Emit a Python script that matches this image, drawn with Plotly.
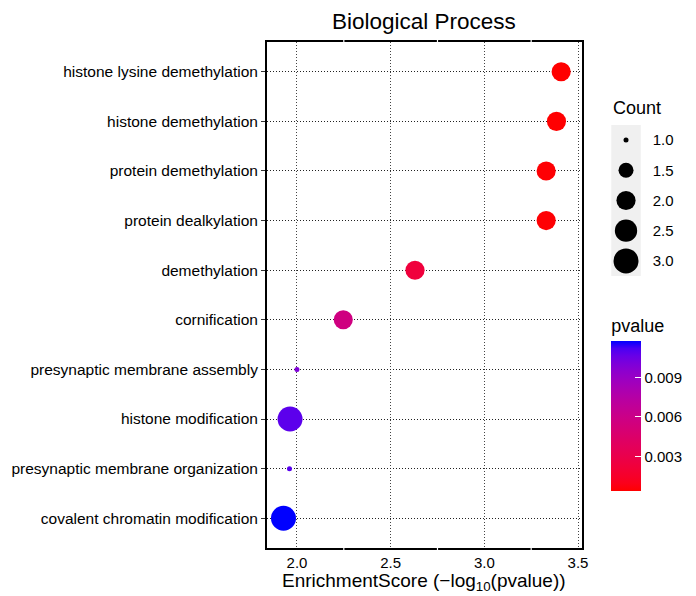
import math
import plotly.graph_objects as go

# ---------------- data ----------------
terms = [
    "histone lysine demethylation",
    "histone demethylation",
    "protein demethylation",
    "protein dealkylation",
    "demethylation",
    "cornification",
    "presynaptic membrane assembly",
    "histone modification",
    "presynaptic membrane organization",
    "covalent chromatin modification",
]
enrichment_scores = [3.41, 3.385, 3.33, 3.33, 2.63, 2.247, 2.0, 1.963, 1.96, 1.928]
pvalues = [0.00039, 0.00041, 0.00047, 0.00047, 0.00234, 0.00566, 0.0100, 0.0109, 0.0110, 0.0118]
counts = [2, 2, 2, 2, 2, 2, 1, 3, 1, 3]

legend_counts = [1.0, 1.5, 2.0, 2.5, 3.0]
legend_labels = ["1.0", "1.5", "2.0", "2.5", "3.0"]
x_ticks = [2.0, 2.5, 3.0, 3.5]
x_tick_labels = ["2.0", "2.5", "3.0", "3.5"]
cbar_ticks = [0.003, 0.006, 0.009]
cbar_tick_labels = ["0.003", "0.006", "0.009"]

# ---------------- styling helpers ----------------
FONT = "Liberation Sans, Arial, Helvetica, sans-serif"


def _lin(c):
    c = c / 255.0
    return c / 12.92 if c <= 0.04045 else ((c + 0.055) / 1.055) ** 2.4


def _delin(c):
    c = 12.92 * c if c <= 0.0031308 else 1.055 * c ** (1 / 2.4) - 0.055
    return max(0, min(255, round(c * 255)))


def rgb_to_lab(rgb):
    r, g, b = (_lin(v) for v in rgb)
    X = (0.4124564 * r + 0.3575761 * g + 0.1804375 * b) / 0.95047
    Y = (0.2126729 * r + 0.7151522 * g + 0.0721750 * b) / 1.0
    Z = (0.0193339 * r + 0.1191920 * g + 0.9503041 * b) / 1.08883
    f = lambda t: t ** (1 / 3) if t > 0.008856 else 7.787 * t + 16 / 116
    fx, fy, fz = f(X), f(Y), f(Z)
    return 116 * fy - 16, 500 * (fx - fy), 200 * (fy - fz)


def lab_to_rgb(lab):
    L, a, bb = lab
    fy = (L + 16) / 116
    fx = fy + a / 500
    fz = fy - bb / 200
    finv = lambda t: t ** 3 if t ** 3 > 0.008856 else (t - 16 / 116) / 7.787
    X, Y, Z = finv(fx) * 0.95047, finv(fy), finv(fz) * 1.08883
    r = 3.2404542 * X - 1.5371385 * Y - 0.4985314 * Z
    g = -0.9692660 * X + 1.8760108 * Y + 0.0415560 * Z
    b = 0.0556434 * X - 0.2040259 * Y + 1.0572252 * Z
    return tuple(_delin(max(0.0, v)) for v in (r, g, b))


lab_lo = rgb_to_lab((255, 0, 0))
lab_hi = rgb_to_lab((0, 0, 255))
colorscale = []
N = 20
for i in range(N + 1):
    t = i / N
    lab = tuple(lo + (hi - lo) * t for lo, hi in zip(lab_lo, lab_hi))
    r, g, b = lab_to_rgb(lab)
    colorscale.append([t, f"rgb({r},{g},{b})"])


def size_px(c):
    return 5 + 20 * math.sqrt((c - 1) / 2)


# ---------------- layout geometry ----------------
# the page has an 8px body margin, so the figure is drawn 8px in from the corner
OFF = 8
W, H = 686, 586
PL, PR, PT, PB = 267, 587, 42, 548          # plot box in page pixels
ML, MR, MT = PL - OFF, 0, PT - OFF
MB = H - (PB - OFF)
PW = W - ML - MR
PH = H - MT - MB
main_right = (PR - PL) / PW


def px_x(x):
    return (x - PL) / PW


def px_y(y):
    return (PB - y) / PH


fig = go.Figure()

fig.add_trace(go.Scatter(
    x=enrichment_scores,
    y=terms,
    mode="markers",
    marker=dict(
        size=[size_px(c) for c in counts],
        sizemode="diameter",
        color=pvalues,
        colorscale=colorscale,
        cmin=min(pvalues),
        cmax=max(pvalues),
        line=dict(width=0),
        opacity=1,
        colorbar=dict(
            title=dict(text="pvalue", side="top", font=dict(size=18, color="black", family=FONT)),
            x=px_x(617), xanchor="left", xpad=0,
            y=px_y(490.7), yanchor="bottom", ypad=0,
            len=175, lenmode="pixels",
            thickness=30, thicknessmode="pixels",
            outlinewidth=0,
            tickvals=cbar_ticks, ticktext=cbar_tick_labels,
            ticks="inside", ticklen=6, tickcolor="white", tickwidth=1,
            tickfont=dict(size=15, color="black", family=FONT),
        ),
    ),
    opacity=1,
    showlegend=False,
    hoverinfo="x+y",
    xaxis="x", yaxis="y",
))

# size legend drawn on its own small axes
fig.add_trace(go.Scatter(
    x=[0.5] * len(legend_counts),
    y=list(range(1, len(legend_counts) + 1)),
    mode="markers",
    marker=dict(size=[size_px(c) for c in legend_counts], sizemode="diameter",
                color="#000000", opacity=1, line=dict(width=0)),
    opacity=1,
    showlegend=False,
    hoverinfo="skip",
    xaxis="x2", yaxis="y2",
))

shapes = [
    dict(type="rect", xref="x2 domain", yref="y2 domain", x0=0, x1=1, y0=0, y1=1,
         fillcolor="#F0F0F0", line=dict(width=0), layer="below"),
]
for xm in [2.25, 2.75, 3.25]:
    for y0, y1 in [(-0.008, 0.004), (0.996, 1.008)]:
        shapes.append(dict(type="line", xref="x", yref="y domain", x0=xm, x1=xm, y0=y0, y1=y1,
                           line=dict(color="white", width=1.2), layer="above"))

fig.update_layout(
    width=W, height=H,
    margin=dict(l=ML, r=MR, t=MT, b=MB, pad=0),
    paper_bgcolor="white",
    plot_bgcolor="white",
    font=dict(family=FONT, size=15, color="black"),
    xaxis=dict(
        domain=[0, main_right],
        range=[1.84, 3.52],
        tickvals=x_ticks, ticktext=x_tick_labels,
        ticks="", showgrid=True, gridcolor="#444", gridwidth=1, griddash="1px,2px",
        zeroline=False, showline=True, linecolor="black", linewidth=2, mirror=True,
        tickfont=dict(size=15, color="black"),
    ),
    yaxis=dict(
        type="category",
        categoryorder="array", categoryarray=terms,
        range=[len(terms) - 0.4, -0.6],
        ticks="outside", ticklen=4, tickwidth=1.2, tickcolor="#333",
        showgrid=True, gridcolor="#222", gridwidth=1, griddash="1px,2px",
        zeroline=False, showline=True, linecolor="black", linewidth=2, mirror=True,
        tickfont=dict(size=15.5, color="black"),
    ),
    xaxis2=dict(
        domain=[px_x(617), px_x(647)], range=[0, 1], anchor="y2",
        showgrid=False, zeroline=False, showticklabels=False, ticks="", showline=False,
        fixedrange=True,
    ),
    yaxis2=dict(
        domain=[px_y(276), px_y(125)], range=[len(legend_counts) + 0.5, 0.5], anchor="x2",
        side="right",
        tickvals=list(range(1, len(legend_counts) + 1)), ticktext=legend_labels,
        ticks="outside", ticklen=8, tickcolor="rgba(0,0,0,0)",
        showgrid=False, zeroline=False, showline=False,
        tickfont=dict(size=15, color="black"), fixedrange=True,
    ),
    shapes=shapes,
    annotations=[
        dict(text="Biological Process", xref="paper", yref="paper",
             x=main_right / 2, y=px_y(21), xanchor="center", yanchor="middle",
             showarrow=False, font=dict(size=22.5, color="black")),
        dict(text="EnrichmentScore (\u2212log<sub>10</sub>(pvalue))", xref="paper", yref="paper",
             x=main_right / 2, y=px_y(582), xanchor="center", yanchor="middle",
             showarrow=False, font=dict(size=19, color="black")),
        dict(text="Count", xref="paper", yref="paper",
             x=px_x(617), y=px_y(108), xanchor="left", yanchor="middle",
             showarrow=False, font=dict(size=18, color="black")),
    ],
)

fig.write_html("out.html")
